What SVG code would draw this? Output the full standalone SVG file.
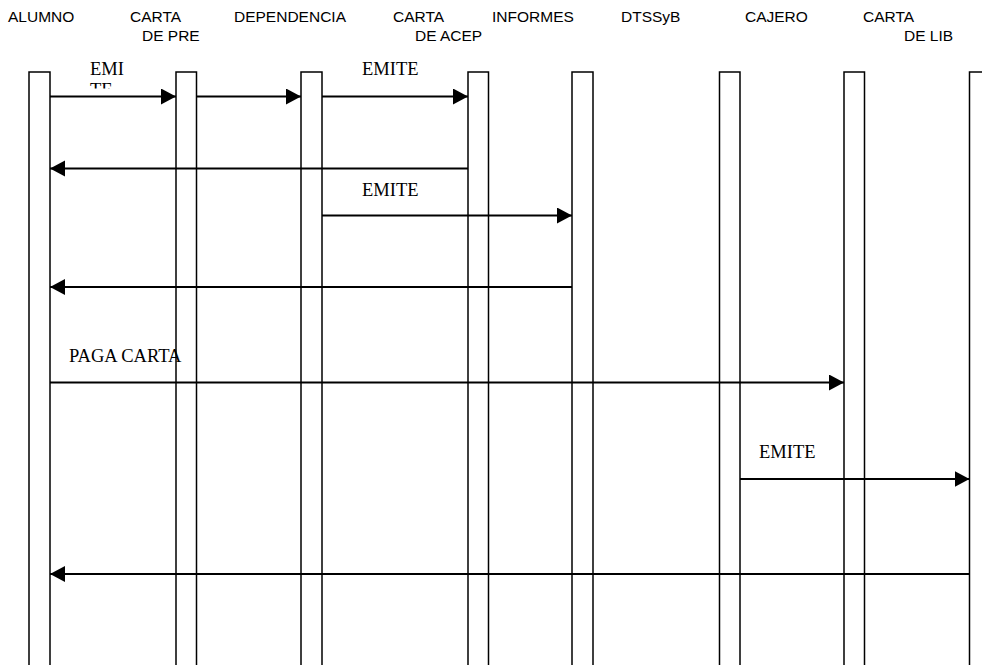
<svg xmlns="http://www.w3.org/2000/svg" width="982" height="665" viewBox="0 0 982 665">
<defs>
<style>
.hdr{font-family:"Liberation Sans",Arial,sans-serif;font-size:15.5px;fill:#000}
.lbl{font-family:"Liberation Serif","Times New Roman",serif;font-size:18.5px;fill:#000}
.life{fill:none;stroke:#000;stroke-width:1.5}
.msg{fill:none;stroke:#000;stroke-width:2;marker-end:url(#ah)}
</style>
<marker id="ah" markerUnits="userSpaceOnUse" markerWidth="16" markerHeight="17" refX="15" refY="8" orient="auto">
<path d="M0,0 L15,8 L0,16 z" fill="#000"/>
</marker>
<clipPath id="clipEmi"><rect x="80" y="50" width="60" height="38.5"/></clipPath>
</defs>
<rect width="982" height="665" fill="#fff"/>
<g id="alumno"><text class="hdr" x="8" y="22">ALUMNO</text><path class="life" d="M29,670 V72 H50 V670"/></g>
<g id="carta-pre"><text class="hdr" x="130" y="22">CARTA</text><text class="hdr" x="142" y="41">DE PRE</text><path class="life" d="M176,670 V72 H196.5 V670"/></g>
<g id="dependencia"><text class="hdr" x="234" y="22">DEPENDENCIA</text><path class="life" d="M301,670 V72 H322 V670"/></g>
<g id="carta-acep"><text class="hdr" x="393" y="22">CARTA</text><text class="hdr" x="415" y="41">DE ACEP</text><path class="life" d="M468,670 V72 H488.5 V670"/></g>
<g id="informes"><text class="hdr" x="492" y="22">INFORMES</text><path class="life" d="M572,670 V72 H593 V670"/></g>
<g id="dtssyb"><text class="hdr" x="621" y="22">DTSSyB</text><path class="life" d="M719.5,670 V72 H740 V670"/></g>
<g id="cajero"><text class="hdr" x="745" y="22">CAJERO</text><path class="life" d="M844,670 V72 H864.5 V670"/></g>
<g id="carta-lib"><text class="hdr" x="863" y="22">CARTA</text><text class="hdr" x="904" y="41">DE LIB</text><path class="life" d="M969.5,670 V72 H990 V670"/></g>
<g id="connectors">
<path class="msg" d="M50,96.5 H176"/>
<path class="msg" d="M196.5,96.5 H301"/>
<path class="msg" d="M322,96.5 H468"/>
<path class="msg" d="M468,168.5 H50"/>
<path class="msg" d="M322,215.5 H572"/>
<path class="msg" d="M572,287 H50"/>
<path class="msg" d="M50,382.5 H844"/>
<path class="msg" d="M740,479 H969.5"/>
<path class="msg" d="M969.5,574 H50"/>
<g clip-path="url(#clipEmi)"><text class="lbl" x="90" y="75">EMI</text><text class="lbl" x="90" y="96">TE</text></g>
<text class="lbl" x="362" y="75">EMITE</text>
<text class="lbl" x="362" y="196">EMITE</text>
<text class="lbl" x="69" y="362">PAGA CARTA</text>
<text class="lbl" x="759" y="458">EMITE</text>
</g>
</svg>
